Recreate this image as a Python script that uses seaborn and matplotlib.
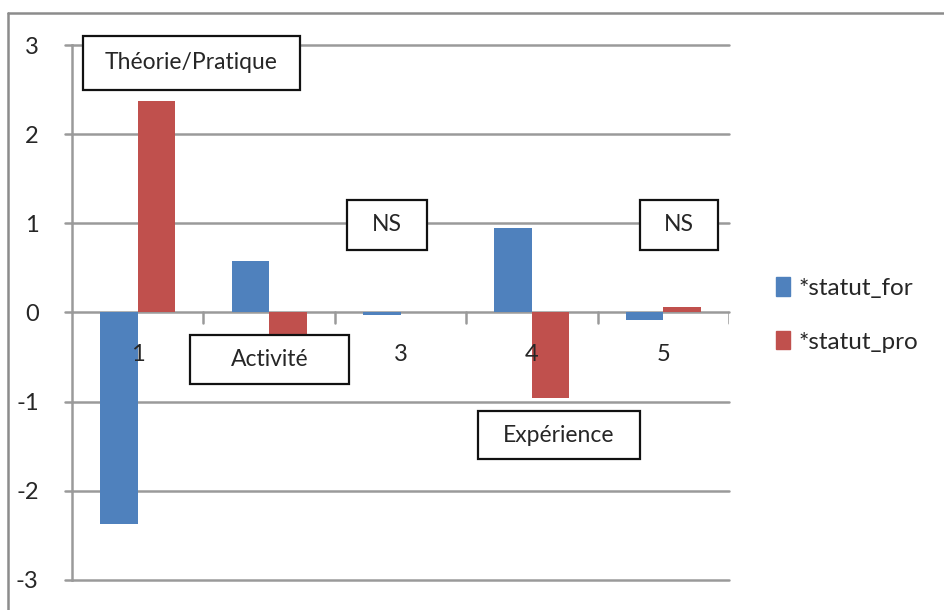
import numpy as np
import pandas as pd
import matplotlib
matplotlib.use("Agg")
import matplotlib.pyplot as plt
import seaborn as sns
from matplotlib.lines import Line2D
from matplotlib.patches import Rectangle

# data
categories = ["1", "2", "3", "4", "5"]
statut_for = [-2.37, 0.58, -0.03, 0.95, -0.08]
statut_pro = [2.37, -0.27, 0.0, -0.96, 0.06]
series_names = ["*statut_for", "*statut_pro"]
y_ticks = [-3, -2, -1, 0, 1, 2, 3]
box_labels = ["Théorie/Pratique", "Activité", "NS", "Expérience", "NS"]

df = pd.DataFrame({
    "cat": categories * 2,
    "val": statut_for + statut_pro,
    "serie": [series_names[0]] * 5 + [series_names[1]] * 5,
})

sns.set_style("white")
plt.rcParams["font.family"] = ["Lato", "DejaVu Sans"]

fig = plt.figure(figsize=(9.44, 6.10), dpi=100)
ax = fig.add_axes([72 / 944, 1 - 580 / 610, (729 - 72) / 944, 535 / 610])

palette = {series_names[0]: "#4F81BD", series_names[1]: "#C0504D"}
sns.barplot(data=df, x="cat", y="val", hue="serie", palette=palette,
            width=0.57, saturation=1, ax=ax, zorder=3, linewidth=0)

grid_col = "#9a9a9a"
ax.set_ylim(-3, 3)
ax.set_xlim(-0.5, 4.5)
ax.set_yticks(y_ticks)
ax.set_yticklabels([str(t) for t in y_ticks], fontsize=17)
for t in y_ticks:
    ax.axhline(t, color=grid_col, lw=1.8, zorder=1, clip_on=False)
    ax.plot([-0.555, -0.5], [t, t], color=grid_col, lw=1.8, clip_on=False)

for s in ["top", "right", "bottom"]:
    ax.spines[s].set_visible(False)
ax.spines["left"].set_color(grid_col)
ax.spines["left"].set_linewidth(1.8)
ax.tick_params(axis="y", length=0, pad=24)

# category labels below the zero line, ticks at boundaries
ax.set_xticks(range(5))
ax.set_xticklabels([])
for i, c in enumerate(categories):
    ax.text(i, -0.47, c, ha="center", va="center", fontsize=17, zorder=4)
for b in np.arange(0.5, 5, 1):
    ax.plot([b, b], [0, -0.12], color=grid_col, lw=1.8, zorder=1)
ax.tick_params(axis="x", length=0)
ax.set_xlabel("")
ax.set_ylabel("")

# annotation boxes (x0, x1, y0, y1 in data units)
boxes = [(-0.416, 1.235, 2.50, 3.10),
         (0.398, 1.608, -0.807, -0.247),
         (1.592, 2.201, 0.706, 1.267),
         (2.590, 3.823, -1.648, -1.110),
         (3.823, 4.416, 0.706, 1.267)]
for (x0, x1, y0, y1), lab in zip(boxes, box_labels):
    ax.add_patch(Rectangle((x0, y0), x1 - x0, y1 - y0, facecolor="white",
                           edgecolor="#111111", lw=1.6, zorder=5, clip_on=False))
    ax.text((x0 + x1) / 2, (y0 + y1) / 2, lab, ha="center", va="center",
            fontsize=16.5, zorder=6)

# legend
handles = [Rectangle((0, 0), 1, 1, color=palette[n]) for n in series_names]
ax.legend(handles, series_names, loc="center left", bbox_to_anchor=(754 / 944, 1 - 315 / 610),
          bbox_transform=fig.transFigure, frameon=False, fontsize=17.5,
          handlelength=0.6, handleheight=0.8, handletextpad=0.35, labelspacing=1.3)

# outer chart frame
fig.add_artist(Line2D([8 / 944, 1], [1 - 13 / 610, 1 - 13 / 610], color="#8c8c8c", lw=1.8))
fig.add_artist(Line2D([8 / 944, 8 / 944], [0, 1 - 13 / 610], color="#8c8c8c", lw=1.8))

fig.savefig("out.png", dpi=100)
